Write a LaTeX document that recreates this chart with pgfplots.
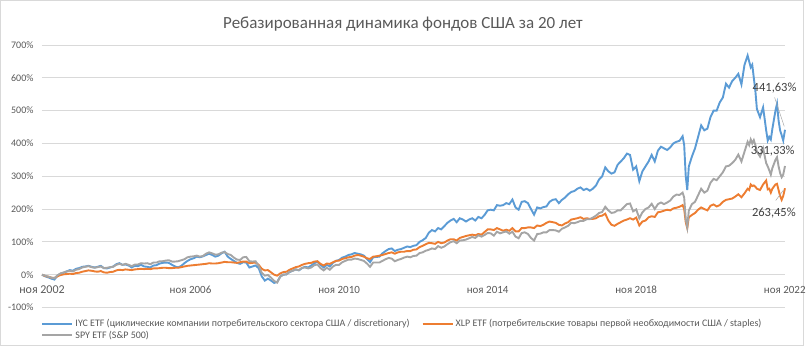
\documentclass[border=0pt]{standalone}
\usepackage{pgfplots}
\pgfplotsset{compat=1.18}
\usepackage{pgfplotstable}
\usepackage{fontspec}
\setmainfont{Carlito}
\definecolor{cblue}{HTML}{5B9BD5}
\definecolor{corange}{HTML}{ED7D31}
\definecolor{cgray}{HTML}{A5A5A5}
\definecolor{gridc}{HTML}{D9D9D9}
\definecolor{txt}{HTML}{595959}
\definecolor{lbl}{HTML}{404040}

\pgfplotstableread{
x S X I
2002.833 0 0 0
2002.917 -3 -4 -5
2003.000 -6 -6 -8
2003.083 -9 -9 -12
2003.167 -11 -10 -15
2003.250 -2 -5 -3
2003.333 4 -1 3
2003.417 7 1 6
2003.500 10 2 10
2003.583 12 3 14
2003.667 10 2 12
2003.750 15 5 18
2003.833 17 6 20
2003.917 22 9 24
2004.000 24 11 25
2004.083 26 13 27
2004.167 23 12 24
2004.250 21 10 22
2004.333 23 9 24
2004.417 25 11 27
2004.500 20 7 20
2004.583 21 6 19
2004.667 23 8 22
2004.750 24 9 25
2004.833 30 13 32
2004.917 33 15 35
2005.000 30 14 30
2005.083 33 16 31
2005.167 30 15 28
2005.250 26 14 22
2005.333 31 16 27
2005.417 31 17 26
2005.500 35 18 30
2005.583 34 17 25
2005.667 35 18 24
2005.750 32 17 22
2005.833 37 19 28
2005.917 37 19 29
2006.000 41 20 34
2006.083 41 21 36
2006.167 43 21 37
2006.250 44 20 36
2006.333 40 20 30
2006.417 40 21 25
2006.500 41 21 22
2006.583 44 23 27
2006.667 47 25 35
2006.750 53 27 42
2006.833 55 28 47
2006.917 56 29 50
2007.000 58 30 55
2007.083 55 31 53
2007.167 57 32 56
2007.250 64 33 60
2007.333 68 35 64
2007.417 65 34 60
2007.500 61 34 55
2007.583 62 35 58
2007.667 67 37 65
2007.750 69 39 70
2007.833 63 38 55
2007.917 60 38 48
2008.000 52 37 42
2008.083 46 36 36
2008.167 45 38 33
2008.250 53 40 38
2008.333 54 40 37
2008.417 41 35 22
2008.500 40 36 25
2008.583 41 37 28
2008.667 27 30 20
2008.750 6 18 -5
2008.833 -3 13 -18
2008.917 -1 14 -12
2009.000 -9 7 -18
2009.083 -19 0 -25
2009.167 -24 -3 -22
2009.250 -6 4 -5
2009.333 0 8 0
2009.417 1 9 1
2009.500 9 15 8
2009.583 12 19 12
2009.667 16 23 16
2009.750 14 25 13
2009.833 21 30 20
2009.917 22 33 24
2010.000 19 35 22
2010.083 22 36 28
2010.167 29 40 35
2010.250 31 41 40
2010.333 20 33 30
2010.417 13 28 22
2010.500 21 34 30
2010.583 15 33 25
2010.667 25 38 36
2010.750 30 42 42
2010.833 30 43 45
2010.917 38 48 52
2011.000 42 50 55
2011.083 46 53 60
2011.167 46 54 62
2011.250 49 58 66
2011.333 48 60 64
2011.417 45 58 62
2011.500 42 55 58
2011.583 34 50 48
2011.667 24 48 38
2011.750 37 55 53
2011.833 37 56 54
2011.917 37 58 55
2012.000 42 60 65
2012.083 47 63 72
2012.167 51 66 78
2012.250 49 68 80
2012.333 41 64 72
2012.417 45 68 76
2012.500 48 70 78
2012.583 52 70 82
2012.667 55 72 86
2012.750 53 72 84
2012.833 57 76 88
2012.917 58 77 90
2013.000 66 84 100
2013.083 68 88 105
2013.167 73 93 112
2013.250 76 97 128
2013.333 80 96 136
2013.417 78 94 132
2013.500 87 100 142
2013.583 82 96 138
2013.667 86 98 148
2013.750 93 104 158
2013.833 99 108 165
2013.917 102 108 170
2014.000 96 104 160
2014.083 104 112 172
2014.167 105 115 168
2014.250 107 118 162
2014.333 111 120 168
2014.417 115 122 172
2014.500 112 120 165
2014.583 120 124 176
2014.667 116 122 172
2014.750 121 130 182
2014.833 127 138 196
2014.917 126 138 198
2015.000 119 136 196
2015.083 131 142 212
2015.167 126 138 210
2015.250 129 134 212
2015.333 132 137 218
2015.417 125 134 215
2015.500 131 142 229
2015.583 116 132 205
2015.667 111 132 198
2015.750 127 142 222
2015.833 129 142 224
2015.917 124 144 218
2016.000 112 144 200
2016.083 104 142 183
2016.167 124 150 205
2016.250 125 148 202
2016.333 129 152 206
2016.417 129 158 208
2016.500 136 162 222
2016.583 136 160 228
2016.667 135 158 230
2016.750 131 152 218
2016.833 140 150 228
2016.917 144 156 235
2017.000 149 160 245
2017.083 158 168 252
2017.167 157 170 255
2017.250 160 172 262
2017.333 164 175 266
2017.417 164 170 258
2017.500 169 172 262
2017.583 169 170 256
2017.667 174 170 262
2017.750 180 172 272
2017.833 188 178 290
2017.917 191 180 300
2018.000 207 186 327
2018.083 196 165 315
2018.167 188 152 308
2018.250 190 149 312
2018.333 196 155 335
2018.417 196 160 345
2018.500 206 165 355
2018.583 215 168 369
2018.667 217 172 365
2018.750 193 168 320
2018.833 199 174 330
2018.917 172 150 285
2019.000 190 162 315
2019.083 200 165 330
2019.167 205 175 345
2019.250 216 178 365
2019.333 200 176 345
2019.417 215 190 378
2019.500 220 192 390
2019.583 215 195 385
2019.667 220 198 380
2019.750 226 196 388
2019.833 238 202 400
2019.917 244 204 405
2020.000 243 207 408
2020.083 250 212 422
2020.125 235 200 395
2020.167 170 160 300
2020.208 145 142 258
2020.250 195 175 330
2020.333 215 182 360
2020.417 222 188 385
2020.500 242 198 420
2020.583 262 205 455
2020.667 250 200 440
2020.750 256 196 445
2020.833 280 210 480
2020.917 292 214 500
2021.000 288 208 500
2021.083 300 212 525
2021.167 312 222 540
2021.250 330 228 582
2021.333 332 230 570
2021.417 340 232 590
2021.500 350 238 600
2021.583 366 245 612
2021.667 345 236 580
2021.750 375 248 640
2021.833 405 262 668
2021.875 395 258 650
2021.917 412 275 632
2021.958 400 270 640
2022.000 410 272 600
2022.042 395 268 560
2022.083 375 262 505
2022.167 360 258 480
2022.250 385 275 510
2022.333 340 287 440
2022.375 330 260 409
2022.417 318 262 420
2022.458 305 250 412
2022.500 325 262 445
2022.583 350 275 500
2022.625 358 277 521
2022.667 330 258 470
2022.708 310 240 440
2022.750 297 228 425
2022.792 305 240 409
2022.840 331.33 263.45 441.63
}\funds

\begin{document}
\begin{tikzpicture}[x=1pt,y=1pt]
\path[use as bounding box] (0,0) rectangle (806,347);
\draw[gridc, line width=0.75pt] (0.5,1.5) rectangle (803,346.5);
\node[text=txt, font=\fontsize{17}{20}\selectfont] at (403,323) {Ребазированная динамика фондов США за 20 лет};
\begin{axis}[
  at={(42pt,39.5pt)}, anchor=south west,
  width=743pt, height=262.5pt, scale only axis,
  xmin=2002.833, xmax=2022.84,
  ymin=-100, ymax=700,
  clip=false,
  axis line style={draw=none},
  tick style={draw=none},
  ymajorgrids, grid style={gridc, line width=0.75pt},
  ytick={-100,0,100,200,300,400,500,600,700},
  yticklabels={-100\%,0\%,100\%,200\%,300\%,400\%,500\%,600\%,700\%},
  yticklabel style={text=txt, font=\fontsize{10}{12}\selectfont, xshift=-5pt},
  xtick={2002.833,2006.833,2010.833,2014.833,2018.833,2022.833},
  xticklabels={{\fontsize{12}{14}\selectfont ноя 2002},ноя 2006,ноя 2010,ноя 2014,ноя 2018,ноя 2022},
  xticklabel style={text=txt, font=\fontsize{11}{12}\selectfont, yshift=25pt},
  legend columns=2,
  legend cell align=left,
  legend style={at={(axis description cs:-0.005,-0.03)}, anchor=north west, draw=none, fill=none,
    font=\fontsize{10}{11}\selectfont, text=txt,
    /tikz/every even column/.append style={column sep=10pt},
    row sep=-1.5pt},
  legend image code/.code={\draw[#1, line width=2pt] (0pt,0pt) -- (30pt,0pt);},
]
\addplot[cblue, line width=1.9pt] table[x=x, y=I] {\funds};
\addlegendentry{IYC ETF (циклические компании потребительского сектора США / discretionary)}
\addplot[corange, line width=1.9pt] table[x=x, y=X] {\funds};
\addlegendentry{XLP ETF (потребительские товары первой необходимости США / staples)}
\addplot[cgray, line width=1.9pt] table[x=x, y=S] {\funds};
\addlegendentry{SPY ETF (S\&P 500)}
\draw[cgray, line width=0.5pt] (axis cs:2022.56,540) -- (axis cs:2022.82,452);
\draw[cgray, line width=0.5pt] (axis cs:2022.59,226) -- (axis cs:2022.8,258);
\node[text=lbl, font=\fontsize{12.5}{14}\selectfont] at (axis cs:2022.56,570) {441,63\%};
\node[text=lbl, font=\fontsize{12.5}{14}\selectfont] at (axis cs:2022.51,378) {331,33\%};
\node[text=lbl, font=\fontsize{12.5}{14}\selectfont] at (axis cs:2022.54,189) {263,45\%};
\end{axis}
\end{tikzpicture}
\end{document}
